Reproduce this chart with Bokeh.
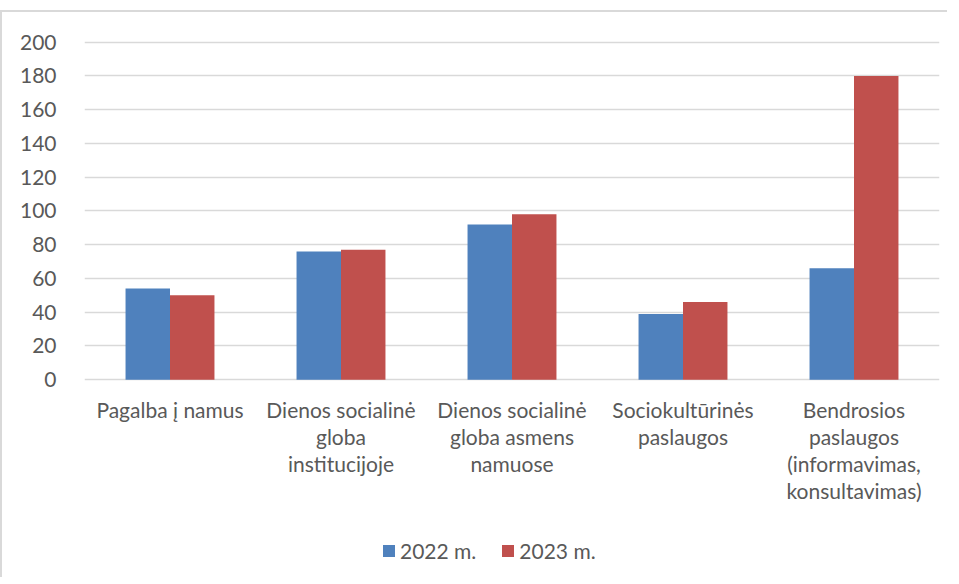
from bokeh.plotting import figure
from bokeh.models import FactorRange, Range1d, FixedTicker, Legend, LegendItem, ColumnDataSource
from bokeh.core.properties import value
from bokeh.transform import dodge
from bokeh.embed import file_html
from bokeh.resources import INLINE

categories = [
    "Pagalba į namus",
    "Dienos socialinė globa institucijoje",
    "Dienos socialinė globa asmens namuose",
    "Sociokultūrinės paslaugos",
    "Bendrosios paslaugos (informavimas, konsultavimas)",
]
category_labels = [
    "Pagalba į namus",
    "Dienos socialinė\ngloba\ninstitucijoje",
    "Dienos socialinė\ngloba asmens\nnamuose",
    "Sociokultūrinės\npaslaugos",
    "Bendrosios\npaslaugos\n(informavimas,\nkonsultavimas)",
]
series_names = ["2022 m.", "2023 m."]
values_2022 = [54, 76, 92, 39, 66]
values_2023 = [50, 77, 98, 46, 180]
y_ticks = [0, 20, 40, 60, 80, 100, 120, 140, 160, 180, 200]

FONT = "Lato"
TXT = "#595959"
GRID = "#d9d9d9"

source = ColumnDataSource(dict(cat=categories, v2022=values_2022, v2023=values_2023))
label_source = ColumnDataSource(dict(cat=categories, label=category_labels,
                                     base=[0] * len(categories)))

p = figure(
    frame_width=855, frame_height=535,
    x_range=FactorRange(*categories, range_padding=0),
    y_range=Range1d(-116, 201),
    output_backend="svg", toolbar_location=None,
    min_border_left=82, min_border_right=8, min_border_top=28, min_border_bottom=2,
)
p.outline_line_color = None
p.background_fill_color = "white"
p.border_fill_color = "white"

r1 = p.vbar(x=dodge("cat", -0.13, range=p.x_range), top="v2022", width=0.26,
            source=source, fill_color="#4F81BD", line_color=None)
r2 = p.vbar(x=dodge("cat", 0.13, range=p.x_range), top="v2023", width=0.26,
            source=source, fill_color="#C0504D", line_color=None)

# category labels under the baseline
p.text(x="cat", y="base", text="label", source=label_source,
       text_font=value(FONT), text_font_size="21px", text_color=TXT,
       text_align="center", text_baseline="top", y_offset=17,
       text_line_height=1.09)

# y axis
p.yaxis.ticker = FixedTicker(ticks=y_ticks)
p.yaxis.axis_line_color = None
p.yaxis.major_tick_line_color = None
p.yaxis.minor_tick_line_color = None
p.yaxis.major_label_standoff = 22
p.yaxis.major_label_text_font = FONT
p.yaxis.major_label_text_font_size = "21px"
p.yaxis.major_label_text_color = TXT

p.ygrid.grid_line_color = GRID
p.ygrid.grid_line_width = 1.6
p.xgrid.grid_line_color = None
p.xaxis.visible = False

legend = Legend(
    items=[LegendItem(label=series_names[0], renderers=[r1]),
           LegendItem(label=series_names[1], renderers=[r2])],
    orientation="horizontal", location=(297, 12),
    glyph_width=15, glyph_height=15, label_standoff=4, spacing=24,
    padding=5, margin=0,
    label_text_font=FONT, label_text_font_size="21px", label_text_color=TXT,
    border_line_color=None, background_fill_alpha=0,
)
p.add_layout(legend, "center")

p.styles = {"border-left": "2px solid #d9d9d9", "border-top": "2px solid #d9d9d9",
            "margin-top": "10px"}

open("out.html", "w").write(file_html(p, INLINE))
